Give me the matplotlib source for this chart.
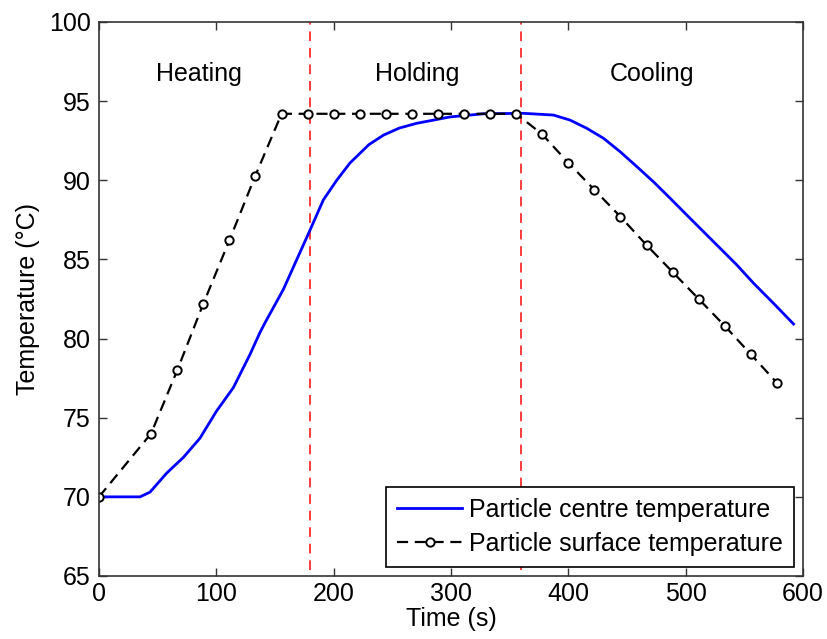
import matplotlib
matplotlib.use("Agg")
import matplotlib.pyplot as plt

plt.rcParams['font.family'] = ['Liberation Sans', 'DejaVu Sans']

# particle centre temperature
centre_t = [0, 35, 43.5, 57.7, 72, 86, 100, 114.5, 128.7, 137.3, 141.5, 157.1, 168, 179.9,
            191.2, 202.6, 214, 219.6, 230, 242.4, 256, 270.8, 285, 299, 327.6, 361.7,
            387.3, 401.5, 415.8, 430, 444.2, 458.4, 472.6, 486.8, 501, 515.2, 529.4,
            543.6, 557.8, 574.8, 591.9]
centre_T = [70, 70, 70.3, 71.5, 72.5, 73.7, 75.4, 76.9, 79.0, 80.4, 81.0, 83.1, 84.9, 86.86,
            88.76, 90.0, 91.1, 91.5, 92.25, 92.85, 93.3, 93.6, 93.8, 94.0, 94.2, 94.23,
            94.12, 93.8, 93.28, 92.65, 91.8, 90.86, 89.9, 88.86, 87.8, 86.75, 85.7,
            84.65, 83.5, 82.23, 80.92]

# particle surface temperature (marked points)
surf_t = [0, 44.4, 66.7, 88.9, 111.1, 133.3, 155.6, 177.8, 200, 222.2, 244.4, 266.7,
          288.9, 311.1, 333.3, 355.6, 377.8, 400, 422.2, 444.4, 466.7, 488.9, 511.1,
          533.3, 555.6, 577.8]
surf_T = [70, 74.0, 78.0, 82.2, 86.2, 90.3, 94.2, 94.2, 94.2, 94.2, 94.2, 94.2,
          94.2, 94.2, 94.2, 94.2, 92.9, 91.1, 89.4, 87.7, 85.9, 84.2, 82.5,
          80.8, 79.0, 77.2]

phase_names = ['Heating', 'Holding', 'Cooling']
phase_centres = [85, 271, 471]
phase_bounds = [180, 360]

fig = plt.figure(figsize=(8.27, 6.39), dpi=100)
ax = fig.add_axes([0.1197, 0.0986, 0.8513, 0.867])

# confini delle fasi
for xb in phase_bounds:
    ax.axvline(xb, ymin=0.011, color='#ff3b3b', lw=1.4, linestyle=(0, (5, 3.5)))

ax.plot(centre_t, centre_T, color='#0000ff', lw=2.0, label='Particle centre temperature')
ax.plot(surf_t, surf_T, color='black', lw=1.6, linestyle=(0, (5, 3)),
        marker='o', markersize=6, markerfacecolor='white', markeredgecolor='black',
        markeredgewidth=1.4, label='Particle surface temperature')

for name, xc in zip(phase_names, phase_centres):
    ax.text(xc, 96.7, name, ha='center', va='center', fontsize=18)

ax.set_xlim(0, 600)
ax.set_ylim(65, 100)
ax.set_xticks(range(0, 601, 100))
ax.set_yticks(range(65, 101, 5))
ax.tick_params(direction='in', length=6, width=1, labelsize=18, top=True, right=True,
               color='#333333')
ax.tick_params(axis='x', pad=4)
ax.tick_params(axis='y', pad=6)
for s in ax.spines.values():
    s.set_color('#333333')
    s.set_linewidth(1.2)

ax.set_xlabel('Time (s)', fontsize=18, labelpad=1)
ax.set_ylabel('Temperature (\u00b0C)', fontsize=18, labelpad=6)

leg = ax.legend(loc='lower right', fontsize=18, frameon=True, fancybox=False,
                edgecolor='black', framealpha=1, handlelength=2.6, handletextpad=0.28,
                borderpad=0.45, labelspacing=0.4, borderaxespad=0.35)
leg.get_frame().set_linewidth(1.2)

fig.savefig('out.png', dpi=100)
